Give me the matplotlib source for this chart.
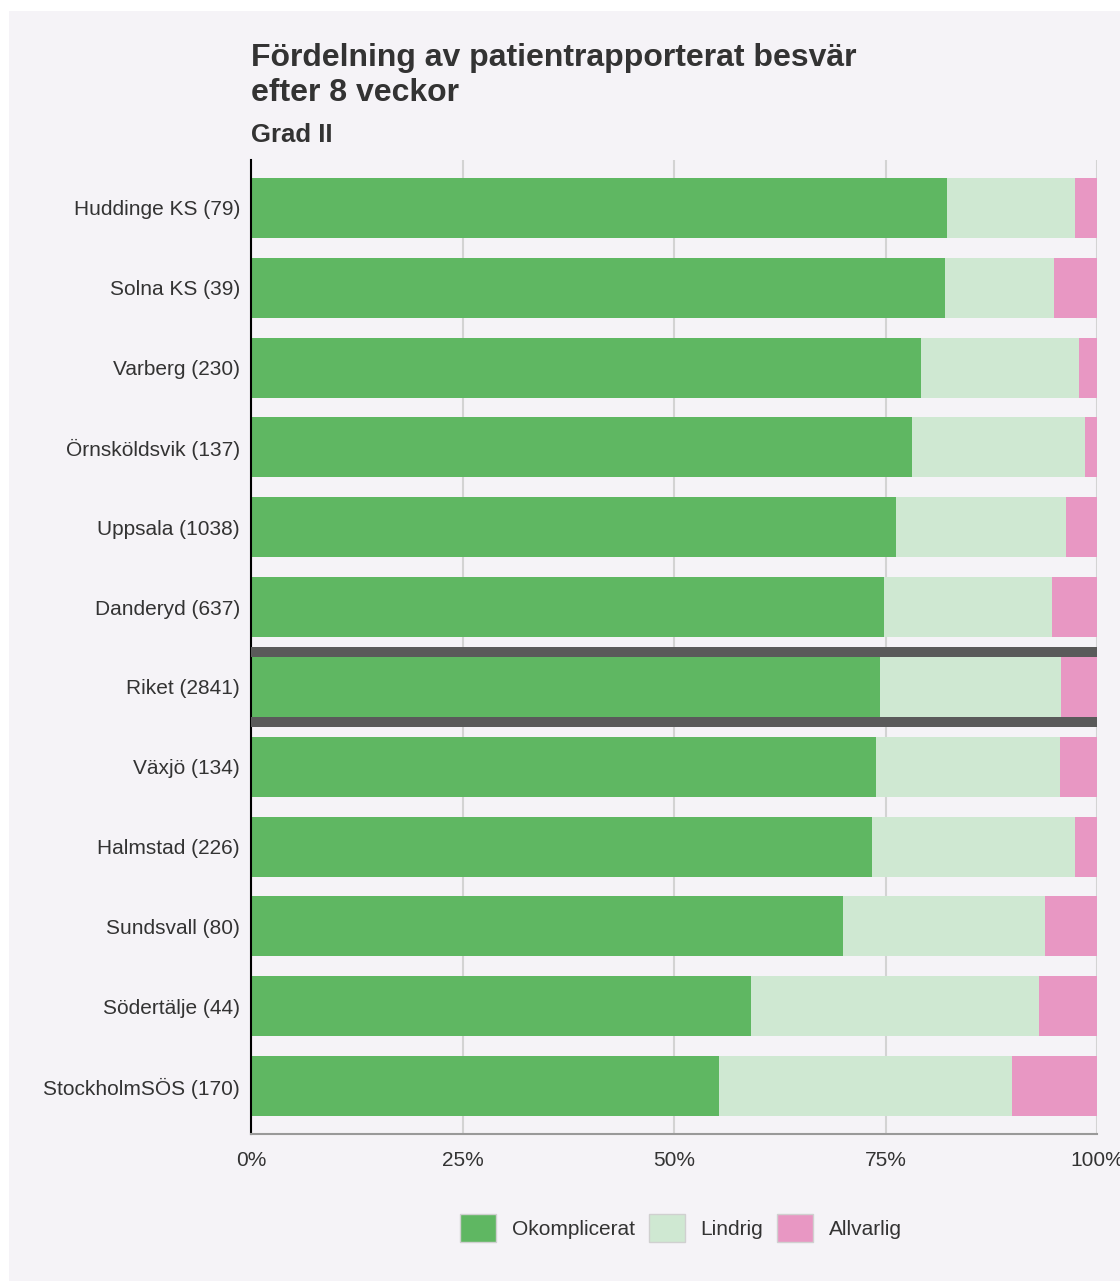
import numpy as np
import matplotlib.pyplot as plt
from matplotlib.patches import Rectangle, Patch

plt.rcParams['font.family'] = ['Liberation Sans', 'DejaVu Sans']

# Data (andel i procent)
enheter = ["Huddinge KS (79)", "Solna KS (39)", "Varberg (230)", "Örnsköldsvik (137)",
           "Uppsala (1038)", "Danderyd (637)", "Riket (2841)", "Växjö (134)",
           "Halmstad (226)", "Sundsvall (80)", "Södertälje (44)", "StockholmSÖS (170)"]
okomplicerat = [82.3, 82.0, 79.2, 78.1, 76.2, 74.8, 74.3, 73.9, 73.4, 70.0, 59.1, 55.3]
lindrig      = [15.1, 12.9, 18.7, 20.5, 20.1, 19.9, 21.4, 21.7, 24.0, 23.8, 34.0, 34.7]
allvarlig    = [2.6, 5.1, 2.1, 1.4, 3.7, 5.3, 4.3, 4.4, 2.6, 6.2, 6.9, 10.0]
serier = ["Okomplicerat", "Lindrig", "Allvarlig"]
farger = ["#5fb762", "#cfe8d2", "#e897c3"]

bg = "#f5f3f7"
textfarg = "#333333"

fig = plt.figure(figsize=(11.2, 12.81), dpi=100, facecolor="white")
# bakgrundspanel
fig.patches.append(Rectangle((9 / 1120, 0), 1, 1 - 11 / 1281, transform=fig.transFigure,
                             facecolor=bg, edgecolor="none", zorder=-10))

ax = fig.add_axes([251 / 1120, 1 - 1134 / 1281, 846 / 1120, 974 / 1281])
ax.set_facecolor(bg)

y = np.arange(len(enheter))
okomp = np.array(okomplicerat)
lind = np.array(lindrig)
allv = np.array(allvarlig)

h = 0.75
ax.barh(y, okomp, height=h, color=farger[0], zorder=2)
ax.barh(y, lind, left=okomp, height=h, color=farger[1], zorder=2)
ax.barh(y, allv, left=okomp + lind, height=h, color=farger[2], zorder=2)

# markering av riket
ri = enheter.index("Riket (2841)")
for d in (-0.44, 0.44):
    ax.axhline(ri + d, color="#5a5a5a", linewidth=7.2, zorder=3, solid_capstyle="butt")

ax.set_xlim(0, 100)
ax.set_ylim(len(enheter) - 0.4, -0.6)
ax.set_yticks(y)
ax.set_yticklabels(enheter, fontsize=15, color=textfarg)
ax.set_xticks([0, 25, 50, 75, 100])
ax.set_xticklabels(["0%", "25%", "50%", "75%", "100%"], fontsize=15, color=textfarg)
ax.tick_params(axis="y", length=0, pad=8)
ax.tick_params(axis="x", length=0, pad=12)
ax.xaxis.grid(True, color="#d3d3d3", linewidth=1.5, zorder=0)
ax.set_axisbelow(True)

for s in ["top", "right"]:
    ax.spines[s].set_visible(False)
ax.spines["left"].set_color("black")
ax.spines["left"].set_linewidth(1.5)
ax.spines["bottom"].set_color("#999999")
ax.spines["bottom"].set_linewidth(1.5)

fig.text(251 / 1120, 1 - 43 / 1281, "Fördelning av patientrapporterat besvär\nefter 8 veckor",
         fontsize=23, fontweight="bold", color=textfarg, va="top", ha="left", linespacing=1.2)
fig.text(251 / 1120, 1 - 123 / 1281, "Grad II", fontsize=18.5, fontweight="bold",
         color=textfarg, va="top", ha="left")

handles = [Patch(facecolor=c, edgecolor="#d0d0d0", label=l) for c, l in zip(farger, serier)]
fig.legend(handles=handles, loc="center", bbox_to_anchor=(681 / 1120, 1 - 1228 / 1281),
           ncol=3, frameon=False, fontsize=15, handlelength=1.75, handleheight=1.75,
           handletextpad=0.75, columnspacing=0.65, labelcolor=textfarg)

plt.savefig("out.png", dpi=100, facecolor="white")
